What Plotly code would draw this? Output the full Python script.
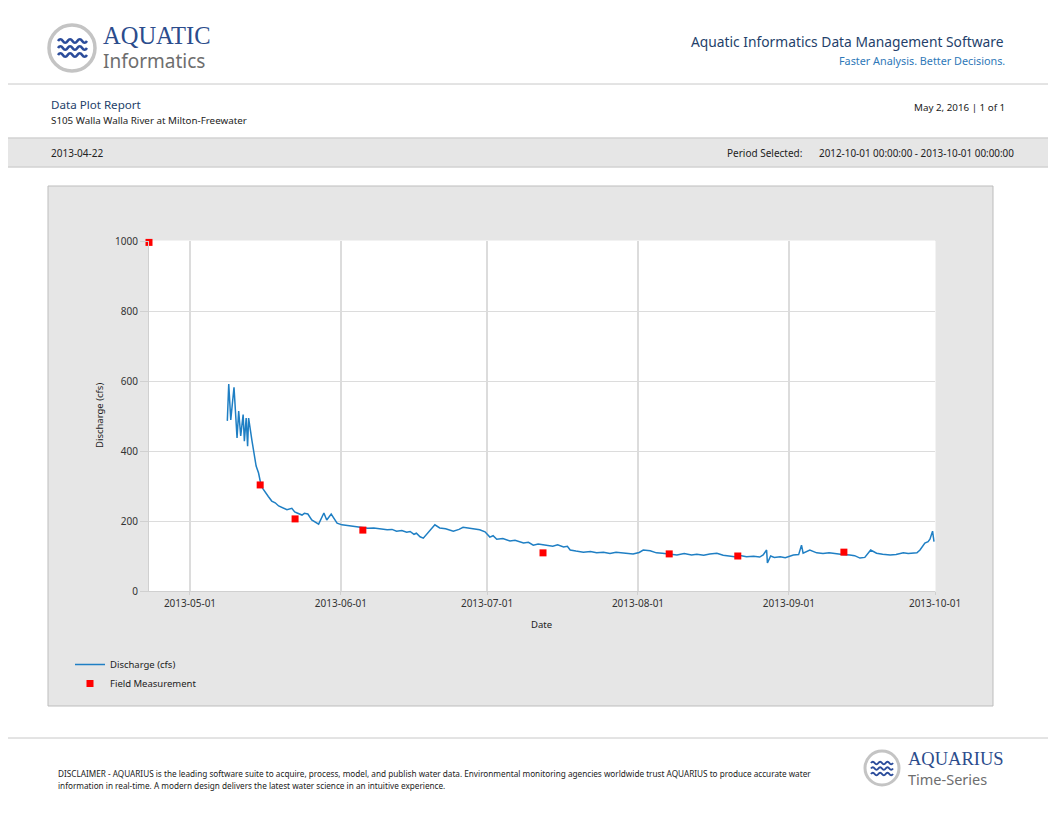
import plotly.graph_objects as go

# ---------------------------------------------------------------- data
discharge_time = [
    "2013-05-08 16:00", "2013-05-08 23:00", "2013-05-09 09:00", "2013-05-10 01:00",
    "2013-05-10 16:00", "2013-05-11 00:00", "2013-05-11 10:00", "2013-05-11 22:00",
    "2013-05-12 04:00", "2013-05-12 13:00", "2013-05-12 20:00", "2013-05-13 01:00",
    "2013-05-13 17:00", "2013-05-14 07:00", "2013-05-14 14:00", "2013-05-15 02:00",
    "2013-05-15 14:00", "2013-05-16 00:00", "2013-05-16 12:00", "2013-05-17 02:00",
    "2013-05-17 19:00", "2013-05-18 12:00", "2013-05-19 05:00", "2013-05-20 00:00",
    "2013-05-20 22:00", "2013-05-21 22:00", "2013-05-22 12:00", "2013-05-23 00:00",
    "2013-05-24 00:00", "2013-05-24 12:00", "2013-05-25 05:00", "2013-05-26 00:00",
    "2013-05-26 18:00", "2013-05-27 10:00", "2013-05-28 12:00", "2013-05-29 02:00",
    "2013-05-30 00:00", "2013-05-31 05:00", "2013-06-01 05:00", "2013-06-02 20:00",
    "2013-06-03 18:00", "2013-06-05 00:00", "2013-06-06 12:00", "2013-06-07 18:00",
    "2013-06-09 00:00", "2013-06-10 12:00", "2013-06-11 12:00", "2013-06-12 10:00",
    "2013-06-13 12:00", "2013-06-14 12:00", "2013-06-15 05:00", "2013-06-16 00:00",
    "2013-06-16 12:00", "2013-06-17 06:00", "2013-06-17 22:00", "2013-06-18 22:00",
    "2013-06-20 07:00", "2013-06-21 07:00", "2013-06-22 12:00", "2013-06-24 02:00",
    "2013-06-25 06:00", "2013-06-26 02:00", "2013-06-27 06:00", "2013-06-28 05:00",
    "2013-06-29 12:00", "2013-06-30 14:00", "2013-07-01 14:00", "2013-07-02 06:00",
    "2013-07-03 00:00", "2013-07-04 06:00", "2013-07-05 17:00", "2013-07-06 18:00",
    "2013-07-08 12:00", "2013-07-09 12:00", "2013-07-10 12:00", "2013-07-11 12:00",
    "2013-07-13 07:00", "2013-07-14 12:00", "2013-07-15 12:00", "2013-07-16 17:00",
    "2013-07-17 12:00", "2013-07-18 02:00", "2013-07-19 06:00", "2013-07-20 19:00",
    "2013-07-22 06:00", "2013-07-23 12:00", "2013-07-24 22:00", "2013-07-26 06:00",
    "2013-07-27 12:00", "2013-07-29 00:00", "2013-07-31 00:00", "2013-08-01 06:00",
    "2013-08-02 02:00", "2013-08-03 12:00", "2013-08-04 19:00", "2013-08-06 00:00",
    "2013-08-07 14:00", "2013-08-09 00:00", "2013-08-10 12:00", "2013-08-12 00:00",
    "2013-08-13 02:00", "2013-08-14 12:00", "2013-08-15 18:00", "2013-08-17 05:00",
    "2013-08-18 12:00", "2013-08-19 22:00", "2013-08-21 06:00", "2013-08-22 06:00",
    "2013-08-23 07:00", "2013-08-24 18:00", "2013-08-26 00:00", "2013-08-26 17:00",
    "2013-08-27 10:00", "2013-08-27 14:00", "2013-08-28 06:00", "2013-08-29 00:00",
    "2013-08-30 05:00", "2013-08-31 06:00", "2013-09-01 22:00", "2013-09-03 00:00",
    "2013-09-03 14:00", "2013-09-03 22:00", "2013-09-05 07:00", "2013-09-06 17:00",
    "2013-09-08 00:00", "2013-09-09 06:00", "2013-09-10 19:00", "2013-09-12 00:00",
    "2013-09-13 12:00", "2013-09-14 12:00", "2013-09-15 14:00", "2013-09-16 14:00",
    "2013-09-17 19:00", "2013-09-19 00:00", "2013-09-20 06:00", "2013-09-21 19:00",
    "2013-09-23 00:00", "2013-09-24 12:00", "2013-09-25 12:00", "2013-09-27 07:00",
    "2013-09-27 22:00", "2013-09-28 22:00", "2013-09-29 14:00", "2013-09-29 23:00",
    "2013-09-30 12:00", "2013-09-30 19:00",
]
discharge_cfs = [
    486, 591, 489, 582, 437, 514, 443, 504, 428, 494, 414, 494,
    431, 380, 357, 337, 303, 292, 280, 270, 257, 252, 243, 238,
    232, 236, 226, 223, 217, 222, 220, 203, 196, 191, 223, 203,
    220, 194, 189, 186, 184, 182, 179, 180, 177, 175, 176, 171,
    173, 168, 170, 162, 165, 155, 151, 166, 189, 180, 178, 171,
    176, 182, 180, 177, 175, 169, 154, 158, 148, 150, 143, 145,
    137, 139, 131, 134, 131, 128, 132, 126, 128, 117, 114, 111,
    113, 109, 111, 107, 111, 109, 106, 110, 117, 115, 109, 108,
    106, 103, 107, 103, 105, 102, 106, 108, 102, 100, 97, 101,
    98, 99, 97, 103, 117, 80, 100, 96, 98, 95, 103, 104,
    131, 108, 117, 109, 107, 109, 106, 104, 103, 101, 94, 96,
    117, 108, 105, 103, 104, 109, 107, 109, 117, 137, 141, 148,
    171, 141,
]

field_time = [
    "2013-04-22 14:00", "2013-05-15 10:00", "2013-05-22 14:00", "2013-06-05 12:00",
    "2013-07-12 12:00", "2013-08-07 10:00", "2013-08-21 12:00", "2013-09-12 07:00",
]
field_cfs = [996, 303, 206, 174, 109, 106, 100, 111]

x_ticks = ["2013-05-01", "2013-06-01", "2013-07-01", "2013-08-01", "2013-09-01", "2013-10-01"]
y_ticks = [0, 200, 400, 600, 800, 1000]

# ---------------------------------------------------------------- page geometry (pixels)
# the page body adds an 8px margin, so the figure is a bit smaller than the window
OFF = 8
W, H = 1056, 816
L, R, T, B = 149, 935, 241, 591


def px(x):
    return (x - L) / (R - L)


def py(y):
    return (B - y) / (B - T)


FONT = "Noto Sans"
NAVY = "#243f6b"
GREY_LINE = "#c8c8c8"

fig = go.Figure()

fig.add_trace(go.Scatter(
    x=discharge_time, y=discharge_cfs, mode="lines", name="Discharge (cfs)",
    line=dict(color="#1f7fc4", width=1.5),
))
fig.add_trace(go.Scatter(
    x=field_time, y=field_cfs, mode="markers", name="Field Measurement",
    marker=dict(color="#ff0000", symbol="square", size=7),
    cliponaxis=False,
))

shapes = []


def rect(x0, y0, x1, y1, fill, line=None, width=1):
    shapes.append(dict(type="rect", xref="paper", yref="paper", layer="below",
                       x0=px(x0), x1=px(x1), y0=py(y0), y1=py(y1),
                       fillcolor=fill, line=dict(color=line or fill, width=width)))


def hline(y, x0=0, x1=W):
    shapes.append(dict(type="line", xref="paper", yref="paper", layer="below",
                       x0=px(x0), x1=px(x1), y0=py(y), y1=py(y),
                       line=dict(color=GREY_LINE, width=1)))


def circle(cx, cy, r, color, width):
    shapes.append(dict(type="circle", xref="paper", yref="paper", layer="above",
                       x0=px(cx - r), x1=px(cx + r), y0=py(cy - r), y1=py(cy + r),
                       fillcolor="white", line=dict(color=color, width=width)))


def wave(x0, x1, y, amp, humps, color, width):
    step = (x1 - x0) / (2 * humps)
    d = "M %f,%f" % (px(x0), py(y))
    for i in range(2 * humps):
        sign = -1 if i % 2 == 0 else 1
        cx = x0 + step * (i + 0.5)
        ex = x0 + step * (i + 1)
        d += " Q %f,%f %f,%f" % (px(cx), py(y + sign * amp * 2), px(ex), py(y))
    shapes.append(dict(type="path", xref="paper", yref="paper", layer="above",
                       path=d, line=dict(color=color, width=width)))


# header / band / footer lines
hline(84)
rect(0, 138, W, 167, "#e6e6e6")
hline(138)
hline(167)
hline(738)

# chart frame and white plot area
rect(48, 186, 993, 706, "#e6e6e6", "#bdbdbd")
rect(L, T, R, B, "white")

# logos
circle(72, 48, 23, "#c4c4c4", 3.5)
for wy in (41, 48, 55):
    wave(58, 87, wy, 1.8, 3, "#2b4c9b", 2.6)
circle(882, 768, 17, "#c4c4c4", 3)
for wy in (763, 768.5, 774):
    wave(871, 893, wy, 1.3, 3, "#2b4c9b", 2)

annotations = []


def text(x, y, s, size, color="#222222", anchor="left", family=FONT, angle=0):
    annotations.append(dict(xref="paper", yref="paper", x=px(x), y=py(y), text=s,
                            showarrow=False, xanchor=anchor, yanchor="middle",
                            textangle=angle,
                            font=dict(family=family, size=size, color=color)))


text(101, 35, "AQUATIC", 24.5, "#2b4c8c", family="Liberation Serif")
text(101, 61, "Informatics", 19, "#6e6e6e")
text(1006, 41, "Aquatic Informatics Data Management Software", 13.8, NAVY, "right")
text(1007, 60, "Faster Analysis. Better Decisions.", 10.8, "#2e78b8", "right")
text(49, 104, "Data Plot Report", 11.6, NAVY)
text(49, 120, "S105 Walla Walla River at Milton-Freewater", 9.8)
text(1007, 107, "May 2, 2016 | 1 of 1", 9.8, anchor="right")
text(49, 153, "2013-04-22", 10)
text(804, 153, "Period Selected:", 10, anchor="right")
text(1016, 153, "2012-10-01 00:00:00 - 2013-10-01 00:00:00", 9.9, anchor="right")
text(99, 416, "Discharge (cfs)", 9.5, angle=-90, anchor="center")
text(541, 624, "Date", 9.5, anchor="center")
text(56, 773, "DISCLAIMER - AQUARIUS is the leading software suite to acquire, process, model, and "
              "publish water data. Environmental monitoring agencies worldwide trust AQUARIUS to "
              "produce accurate water", 8.2)
text(56, 785, "information in real-time. A modern design delivers the latest water science in an "
              "intuitive experience.", 8.2)
text(906, 759, "AQUARIUS", 18.5, "#2b4c8c", family="Liberation Serif")
text(906, 779, "Time-Series", 14.5, "#6e6e6e")

fig.update_layout(
    width=W - OFF, height=H - OFF, autosize=False,
    margin=dict(l=L - OFF, r=W - R, t=T - OFF, b=H - B, pad=0),
    paper_bgcolor="white", plot_bgcolor="white",
    font=dict(family=FONT, size=10, color="#333333"),
    shapes=shapes, annotations=annotations,
    showlegend=True,
    legend=dict(x=px(70), y=py(650), xanchor="left", yanchor="top",
                bgcolor="rgba(0,0,0,0)", font=dict(size=9.5, color="#222222"),
                tracegroupgap=0),
)
fig.update_xaxes(
    type="date", range=["2013-04-22 14:00", "2013-10-01 00:00"],
    tickvals=x_ticks, tickformat="%Y-%m-%d",
    showgrid=True, gridcolor="#dcdcdc", gridwidth=1.5,
    showline=True, linecolor="#d0d0d0", ticks="outside", ticklen=3, tickcolor="#d0d0d0",
    zeroline=False,
)
fig.update_yaxes(
    range=[0, 1000], tickvals=y_ticks,
    showgrid=True, gridcolor="#dcdcdc", gridwidth=1,
    showline=True, linecolor="#d0d0d0", ticks="outside", ticklen=8, tickcolor="#d0d0d0",
    zeroline=False,
)

fig.write_html("out.html")
